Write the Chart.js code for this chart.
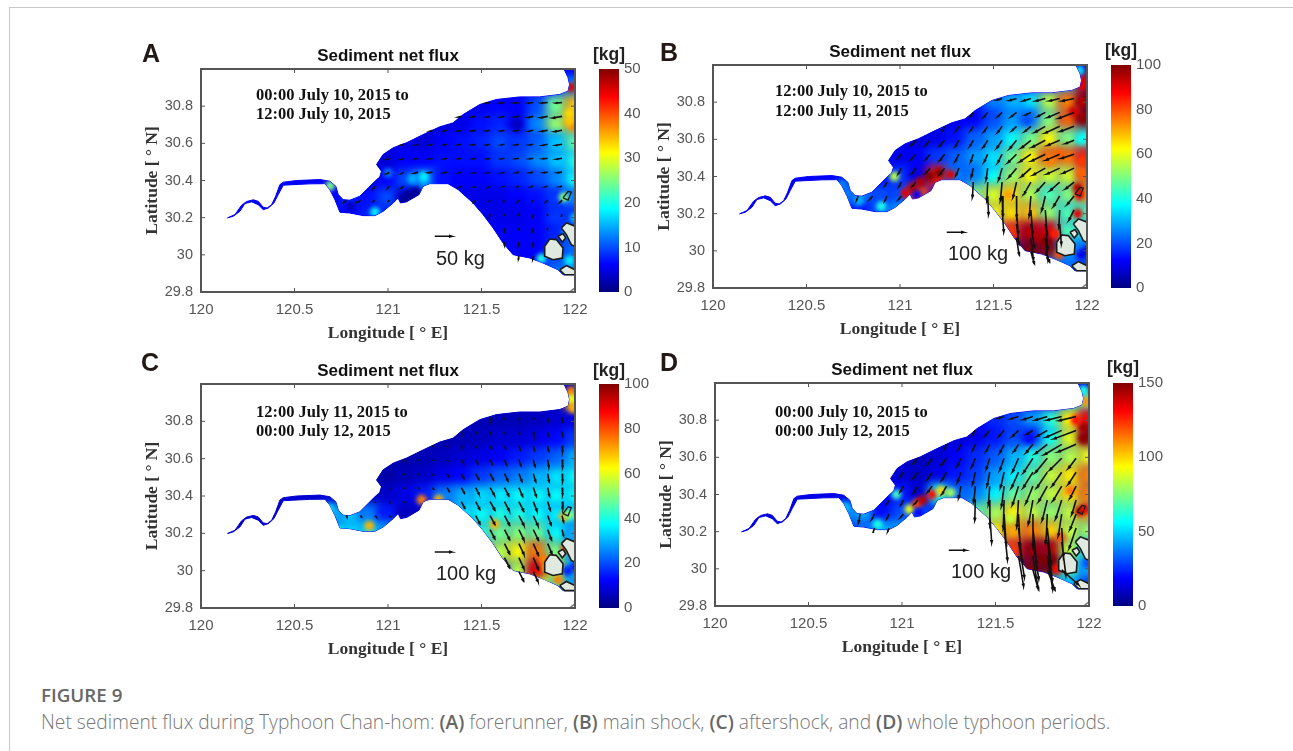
<!DOCTYPE html>
<html>
<head>
<meta charset="utf-8">
<style>
html, body { margin: 0; background: #fff; }
#page { position: relative; width: 1293px; height: 751px; overflow: hidden; }
#frame { position: absolute; left: 9px; top: 7px; width: 1300px; height: 800px; border: 1px solid #c8c8c8; }
canvas { position: absolute; filter: blur(0.45px); }
.t { position: absolute; transform: translateY(-50%); white-space: nowrap; filter: blur(0.3px); }
.letter { font: bold 25px "Liberation Sans"; color: #231815; }
.unit { font: bold 17.5px "Liberation Sans"; color: #222; transform: translate(-50%, -50%); }
.date { font: bold 16.5px "Liberation Serif"; color: #111; }
.key { font: 20px "Liberation Sans"; color: #222; }
.cap { font: 300 19.2px "Open Sans"; color: #777; filter: none; }
.cap b { color: #666; font-weight: 600; }
.cap.head { font-size: 18.8px; }
</style>
</head>
<body>
<div id="page">
  <div id="frame"></div>
  <div class="t letter" style="left:142px;top:53px">A</div>
  <div class="t letter" style="left:660px;top:52px">B</div>
  <div class="t letter" style="left:141px;top:362px">C</div>
  <div class="t letter" style="left:660px;top:362px">D</div>
  <div class="t unit" style="left:609px;top:54px">[kg]</div>
  <div class="t unit" style="left:1121px;top:50px">[kg]</div>
  <div class="t unit" style="left:609px;top:370px">[kg]</div>
  <div class="t unit" style="left:1123px;top:367px">[kg]</div>
  <div class="t date" style="left:256px;top:95px">00:00 July 10, 2015 to</div>
  <div class="t date" style="left:256px;top:114px">12:00 July 10, 2015</div>
  <div class="t date" style="left:775px;top:91px">12:00 July 10, 2015 to</div>
  <div class="t date" style="left:775px;top:111px">12:00 July 11, 2015</div>
  <div class="t date" style="left:256px;top:412px">12:00 July 11, 2015 to</div>
  <div class="t date" style="left:256px;top:431px">00:00 July 12, 2015</div>
  <div class="t date" style="left:775px;top:412px">00:00 July 10, 2015 to</div>
  <div class="t date" style="left:775px;top:431px">00:00 July 12, 2015</div>
  <div class="t key" style="left:436px;top:258px">50 kg</div>
  <div class="t key" style="left:948px;top:253px">100 kg</div>
  <div class="t key" style="left:436px;top:573px">100 kg</div>
  <div class="t key" style="left:951px;top:571px">100 kg</div>
  <div class="t cap head" style="left:41px;top:695px"><b>FIGURE 9</b></div>
  <div class="t cap" style="left:41px;top:721px">Net sediment flux during Typhoon Chan-hom: <b>(A)</b> forerunner, <b>(B)</b> main shock, <b>(C)</b> aftershock, and <b>(D)</b> whole typhoon periods.</div>
</div>
<script src="https://cdn.jsdelivr.net/npm/chart.js@4"></script>
<script>
const ticksX = [120, 120.5, 121, 121.5, 122];
const ticksY = [29.8, 30, 30.2, 30.4, 30.6, 30.8];
const barTicksA = [0, 10, 20, 30, 40, 50];
const barTicksB = [0, 20, 40, 60, 80, 100];
const barTicksC = [0, 20, 40, 60, 80, 100];
const barTicksD = [0, 50, 100, 150];

// estuary outline, lon / lat
const coastLon = [120.142,120.182,120.217,120.244,120.280,120.306,120.333,120.354,120.378,120.399,120.422,120.440,120.511,120.636,120.689,120.721,120.734,120.760,120.796,120.849,120.894,120.930,120.956,120.965,120.939,120.974,121.028,121.099,121.188,121.277,121.348,121.402,121.491,121.580,121.704,121.811,121.918,121.963,121.971,121.963,121.941,122,122,121.936,121.909,121.829,121.758,121.669,121.615,121.562,121.508,121.455,121.375,121.321,121.223,121.188,121.166,121.099,121.067,121.054,121.028,120.974,120.930,120.867,120.796,120.743,120.716,120.689,120.663,120.582,120.440,120.413,120.390,120.360,120.333,120.306,120.271,120.235,120.208,120.173,120.142];
const coastLat = [30.199,30.217,30.267,30.287,30.296,30.288,30.256,30.252,30.270,30.315,30.378,30.391,30.400,30.405,30.396,30.369,30.324,30.297,30.294,30.315,30.360,30.396,30.419,30.450,30.486,30.540,30.576,30.603,30.647,30.689,30.710,30.755,30.809,30.836,30.850,30.850,30.863,30.881,30.917,30.953,31,31,29.893,29.893,29.920,29.956,29.983,30.001,30.064,30.145,30.217,30.279,30.351,30.383,30.383,30.369,30.324,30.285,30.279,30.306,30.279,30.234,30.211,30.211,30.225,30.229,30.297,30.351,30.383,30.382,30.375,30.324,30.279,30.252,30.243,30.270,30.285,30.276,30.234,30.208,30.199];

// islands in the south-east corner
const islandLon = [
  [121.838,121.865,121.900,121.936,121.932,121.882,121.838,121.838],
  [121.927,121.954,122,122,121.980,121.954,121.927],
  [121.909,121.936,121.950,121.932,121.909],
  [121.918,121.954,122,122,121.945,121.918]
];
const islandLat = [
  [30.046,30.085,30.082,30.037,29.983,29.974,29.992,30.046],
  [30.145,30.172,30.154,30.046,30.055,30.109,30.145],
  [30.100,30.114,30.091,30.069,30.100],
  [29.920,29.942,29.920,29.893,29.893,29.920]
];
const ringLon = [121.936,121.963,121.980,121.963,121.936];
const ringLat = [30.306,30.342,30.337,30.294,30.306];
const cornerLon = [121.971,122];
const cornerLat = [29.8,29.822];

// flux field, kg, 0 = land
const heatLon = [120.7,120.8,120.9,121,121.1,121.2,121.3,121.4,121.5,121.6,121.7,121.8,121.9,122];
const heatLat = [30.9,30.8,30.7,30.6,30.5,30.4,30.3,30.2,30.1,30.0,29.9];
const heatA = [
  [0,0,0,0,0,0,0,0,0,0,0,0,8,14],
  [0,0,0,0,0,0,0,5,5,6,6,10,24,34],
  [0,0,0,0,0,4,4,5,7,8,5,13,26,34],
  [0,0,0,5,5,4,6,7,8,10,9,11,16,23],
  [0,0,4,4,6,6,7,7,7,9,10,13,16,20],
  [0,7,5,6,10,14,7,6,6,7,8,10,13,19],
  [6,8,7,10,3,0,0,5,5,5,6,7,9,13],
  [0,6,8,8,0,0,0,0,5,5,5,6,9,9],
  [0,0,0,0,0,0,0,0,0,6,6,6,8,12],
  [0,0,0,0,0,0,0,0,0,0,6,6,10,12],
  [0,0,0,0,0,0,0,0,0,0,0,8,12,14]
];
const heatB = [
  [0,0,0,0,0,0,0,0,0,0,0,0,30,90],
  [0,0,0,0,0,0,0,15,25,30,35,55,75,98],
  [0,0,0,0,0,10,10,12,20,28,24,50,78,98],
  [0,0,0,10,8,10,14,22,28,38,48,62,50,42],
  [0,0,10,10,12,18,22,28,35,48,62,76,76,84],
  [0,25,12,18,10,85,25,25,38,52,62,58,58,78],
  [25,25,20,20,80,0,0,50,58,65,55,45,50,72],
  [0,15,22,30,0,0,0,0,62,65,68,52,45,45],
  [0,0,0,0,0,0,0,0,0,82,94,90,45,40],
  [0,0,0,0,0,0,0,0,0,0,100,98,30,25],
  [0,0,0,0,0,0,0,0,0,0,0,30,25,20]
];
const heatC = [
  [0,0,0,0,0,0,0,0,0,0,0,0,6,70],
  [0,0,0,0,0,0,0,5,5,5,5,6,8,10],
  [0,0,0,0,0,4,4,5,6,8,8,10,13,18],
  [0,0,0,4,4,5,6,8,10,12,15,18,22,30],
  [0,0,4,4,5,7,10,13,18,22,25,30,35,38],
  [0,30,6,7,10,15,25,30,34,36,38,38,38,38],
  [30,32,25,15,6,0,0,36,38,40,40,38,36,35],
  [0,35,35,30,0,0,0,0,42,48,50,48,38,30],
  [0,0,0,0,0,0,0,0,0,55,62,75,50,30],
  [0,0,0,0,0,0,0,0,0,0,55,90,60,30],
  [0,0,0,0,0,0,0,0,0,0,0,60,45,30]
];
const heatD = [
  [0,0,0,0,0,0,0,0,0,0,0,0,50,70],
  [0,0,0,0,0,0,0,18,25,30,42,62,95,130],
  [0,0,0,0,0,12,12,15,22,30,24,58,90,145],
  [0,0,0,10,8,12,18,25,32,45,60,76,82,92],
  [0,0,12,12,10,15,22,28,42,55,70,85,96,112],
  [0,40,18,22,12,60,35,38,55,70,78,85,96,112],
  [40,45,20,30,30,0,0,70,80,95,85,78,85,110],
  [0,35,45,45,0,0,0,0,95,105,112,100,85,80],
  [0,0,0,0,0,0,0,0,0,122,146,142,85,55],
  [0,0,0,0,0,0,0,0,0,0,150,150,70,45],
  [0,0,0,0,0,0,0,0,0,0,0,60,50,30]
];

// small features: lon, lat, kg
const spotsA = [[120.69,30.37,25],[120.8,30.26,3],[120.93,30.23,18],[121.12,30.32,1],[121.15,30.34,1],[121.09,30.3,1],[121.94,30.31,25],[121.19,30.42,18],[121.13,30.41,15],[121.0,30.44,12],[121.98,30.9,45],[122,30.69,38],[121.97,30.76,33],[121.97,30.72,34],[121.69,30.7,3],[121.97,29.97,18],[121.96,30.12,16],[122,30.2,16],[121.82,29.98,20]];
const spotsB = [[121.03,30.31,90],[121.07,30.34,95],[121.11,30.37,95],[121.16,30.4,100],[121.21,30.42,100],[121.27,30.41,90],[120.97,30.4,55],[121.09,30.3,12],[121.58,30.3,72],[121.95,30.34,95],[121.96,30.3,90],[121.95,30.2,90],[121.83,30.09,85],[121.85,29.98,80],[122,30.0,10],[121.97,29.98,10],[120.69,30.36,25],[120.78,30.27,30],[120.9,30.24,40],[121.68,30.7,20],[121.96,30.97,35],[121.98,30.9,90],[122,30.13,20],[121.97,30.8,95],[121.97,30.72,98],[121.93,30.75,92],[121.97,30.6,38],[121.97,30.48,82],[121.97,30.42,78],[121.85,30.52,78],[121.8,30.48,75],[121.75,30.07,95],[121.78,30.05,100]];
const spotsC = [[120.68,30.33,40],[120.74,30.22,35],[120.9,30.24,70],[121.18,30.38,75],[121.27,30.38,70],[121.57,30.25,70],[121.94,30.29,70],[121.97,30.3,50],[121.98,30.96,75],[121.98,30.92,60],[121.99,30.87,70],[121.85,30.02,70],[121.83,30.06,75],[121.83,29.93,60],[122,30.02,15],[121.96,30.0,15],[121.91,29.95,75],[121.95,30.12,80]];
const spotsD = [[121.04,30.32,90],[121.08,30.35,120],[121.11,30.37,140],[121.16,30.4,130],[121.21,30.42,100],[121.26,30.41,80],[120.97,30.4,65],[121.09,30.3,20],[121.58,30.27,85],[121.95,30.31,140],[121.98,30.32,135],[121.85,30.17,120],[121.83,30.0,130],[121.99,30.03,30],[121.97,30.96,60],[121.98,30.9,110],[120.69,30.33,50],[120.87,30.24,60],[121.68,30.7,20],[122,30.12,20],[121.97,30.76,145],[121.93,30.8,130],[121.97,30.7,148],[121.75,30.05,150],[121.8,30.05,150],[121.9,30.42,115]];

// arrow grid and vectors, kg toward east / north, 0,0 = none
const arrowLon = [120.776,120.853,120.93,121.007,121.084,121.161,121.238,121.315,121.392,121.469,121.546,121.623,121.7,121.777,121.854,121.931];
const arrowLat = [30.82,30.745,30.67,30.595,30.52,30.445,30.37,30.295,30.22,30.145,30.07,29.995];
const arrowUA = [
  [0,0,0,0,0,0,0,0,0,0,-11,-11,-13,-14,-18,-18],
  [0,0,0,0,0,0,0,0,-8,-10,-10,-10,-10,-14,-20,-27],
  [0,0,0,0,0,0,-6,-6,-8,-10,-10,-10,-10,-13,-18,-22],
  [0,0,0,0,-6,-6,-7,-8,-9,-10,-10,-9,-10,-11,-14,-18],
  [0,0,0,-6,-7,-8,-8,-8,-8,-8,-9,-9,-10,-11,-14,-16],
  [0,0,0,-5,-6,-10,-11,-8,-6,-6,-6,-6,-7,-9,-11,-13],
  [0,0,-3,-4,-6,0,0,0,-4,-4,-4,-4,-4,-5,-6,-6],
  [-4,-6,-5,-3,0,0,0,0,0,-3,-3,-3,-3,-3,-3,-4],
  [0,0,0,0,0,0,0,0,0,0,-1,-1,-1,-1,-1,-2],
  [0,0,0,0,0,0,0,0,0,0,0,-1,-1,-1,-1,0],
  [0,0,0,0,0,0,0,0,0,0,0,-1,-1,-1,0,0],
  [0,0,0,0,0,0,0,0,0,0,0,0,-1,-1,0,0]
];
const arrowVA = [
  [0,0,0,0,0,0,0,0,0,0,-2,-2,-2,-2,-2,-2],
  [0,0,0,0,0,0,0,0,-2,-2,-2,-2,-2,-3,-4,-5],
  [0,0,0,0,0,0,-2,-2,-2,-2,-2,-2,-2,-3,-3,-4],
  [0,0,0,0,-2,-2,-2,-2,-2,-2,-2,-2,-2,-2,-3,-3],
  [0,0,0,-3,-3,-2,-2,-2,-2,-2,-2,-2,-2,-2,-2,-3],
  [0,0,0,-4,-4,-3,-2,-2,-2,-2,-2,-2,-2,-2,-2,-2],
  [0,0,-6,-6,-5,0,0,0,-3,-3,-3,-2,-2,-2,-2,-2],
  [-5,-5,-4,-4,0,0,0,0,0,-4,-4,-4,-4,-4,-4,-5],
  [0,0,0,0,0,0,0,0,0,0,-6,-6,-6,-6,-6,-6],
  [0,0,0,0,0,0,0,0,0,0,0,-8,-8,-8,-7,0],
  [0,0,0,0,0,0,0,0,0,0,0,-10,-10,-9,0,0],
  [0,0,0,0,0,0,0,0,0,0,0,0,-10,-10,0,0]
];
const arrowUB = [
  [0,0,0,0,0,0,0,0,0,0,-30,-40,-45,-55,-60,-70],
  [0,0,0,0,0,0,0,0,-15,-20,-25,-30,-30,-45,-70,-90],
  [0,0,0,0,0,0,-10,-15,-15,-20,-25,-25,-35,-60,-85,-80],
  [0,0,0,0,-25,-25,-25,-20,-20,-25,-30,-40,-55,-75,-70,-50],
  [0,0,0,-15,-25,-25,-25,-20,-15,-20,-25,-50,-65,-80,-80,-75],
  [0,0,0,-15,-20,-25,-25,-15,-10,-10,-20,-45,-55,-70,-75,-65],
  [0,0,-10,-12,-15,0,0,0,-5,-5,-10,-20,-40,-50,-55,-50],
  [-8,-15,-10,-15,0,0,0,0,0,5,5,1,-10,-20,-35,-40],
  [0,0,0,0,0,0,0,0,0,0,10,10,10,10,-5,-30],
  [0,0,0,0,0,0,0,0,0,0,0,15,20,15,10,0],
  [0,0,0,0,0,0,0,0,0,0,0,15,15,15,0,0],
  [0,0,0,0,0,0,0,0,0,0,0,0,20,25,0,0]
];
const arrowVB = [
  [0,0,0,0,0,0,0,0,0,0,-10,-12,-15,-15,-15,-15],
  [0,0,0,0,0,0,0,0,-25,-25,-25,-25,-15,-25,-30,-35],
  [0,0,0,0,0,0,-25,-25,-25,-30,-35,-25,-30,-35,-40,-30],
  [0,0,0,0,-30,-30,-30,-35,-35,-40,-45,-50,-45,-40,-30,-20],
  [0,0,0,-20,-30,-30,-35,-40,-45,-45,-50,-50,-45,-40,-35,-25],
  [0,0,0,-30,-30,-30,-35,-40,-50,-70,-70,-55,-50,-40,-35,-30],
  [0,0,-20,-25,-20,0,0,0,-90,-110,-110,-90,-70,-55,-50,-40],
  [-25,-20,-25,-20,0,0,0,0,0,-110,-120,-125,-120,-85,-60,-50],
  [0,0,0,0,0,0,0,0,0,0,-130,-140,-140,-140,-100,-60],
  [0,0,0,0,0,0,0,0,0,0,0,-120,-140,-150,-120,0],
  [0,0,0,0,0,0,0,0,0,0,0,-100,-130,-130,0,0],
  [0,0,0,0,0,0,0,0,0,0,0,0,-70,-60,0,0]
];
const arrowUC = [
  [0,0,0,0,0,0,0,0,0,0,2,3,3,3,2,1],
  [0,0,0,0,0,0,0,0,2,3,4,5,5,4,3,2],
  [0,0,0,0,0,0,2,3,4,6,8,8,8,6,5,3],
  [0,0,0,0,2,3,4,6,10,12,13,13,12,10,7,3],
  [0,0,0,2,3,4,7,12,15,18,20,20,18,14,8,3],
  [0,0,0,3,4,5,7,14,18,20,25,25,22,18,10,3],
  [0,0,2,4,5,0,0,0,20,24,28,28,28,22,15,5],
  [5,6,7,5,0,0,0,0,0,25,28,30,30,28,20,8],
  [0,0,0,0,0,0,0,0,0,0,28,30,30,30,22,8],
  [0,0,0,0,0,0,0,0,0,0,0,30,30,30,25,0],
  [0,0,0,0,0,0,0,0,0,0,0,30,30,30,0,0],
  [0,0,0,0,0,0,0,0,0,0,0,0,28,28,0,0]
];
const arrowVC = [
  [0,0,0,0,0,0,0,0,0,0,-8,-10,-12,-14,-18,-20],
  [0,0,0,0,0,0,0,0,-6,-8,-10,-12,-15,-18,-22,-28],
  [0,0,0,0,0,0,-3,-5,-8,-12,-16,-20,-24,-28,-32,-36],
  [0,0,0,0,-2,-3,-4,-8,-16,-24,-28,-32,-36,-40,-44,-44],
  [0,0,0,-2,-3,-5,-10,-18,-28,-34,-38,-42,-46,-48,-48,-46],
  [0,0,0,-3,-4,-5,-10,-22,-32,-40,-44,-48,-52,-52,-50,-42],
  [0,0,-3,-4,-5,0,0,0,-38,-46,-50,-54,-56,-56,-50,-40],
  [-8,-8,-7,-5,0,0,0,0,0,-48,-52,-56,-58,-60,-55,-38],
  [0,0,0,0,0,0,0,0,0,0,-54,-58,-62,-62,-60,-36],
  [0,0,0,0,0,0,0,0,0,0,0,-60,-64,-68,-60,0],
  [0,0,0,0,0,0,0,0,0,0,0,-60,-66,-70,0,0],
  [0,0,0,0,0,0,0,0,0,0,0,0,-55,-60,0,0]
];
const arrowUD = [
  [0,0,0,0,0,0,0,0,0,0,-35,-45,-55,-70,-85,-100],
  [0,0,0,0,0,0,0,0,-15,-25,-30,-35,-35,-60,-90,-130],
  [0,0,0,0,0,0,-10,-15,-15,-20,-25,-25,-40,-70,-100,-105],
  [0,0,0,0,-25,-25,-25,-20,-20,-20,-25,-35,-55,-70,-70,-45],
  [0,0,0,-15,-25,-25,-25,-20,-15,-15,-20,-40,-55,-60,-55,-45],
  [0,0,0,-15,-20,-25,-25,-12,-8,-8,-15,-35,-40,-50,-50,-35],
  [0,0,-10,-12,-15,0,0,0,-3,1,-5,-10,-25,-30,-35,-25],
  [-8,-15,-10,-15,0,0,0,0,0,12,12,10,1,-8,-20,-35],
  [0,-8,-6,0,0,0,0,0,0,0,20,22,22,22,10,-40],
  [0,0,0,0,0,0,0,0,0,0,0,35,35,30,25,0],
  [0,0,0,0,0,0,0,0,0,0,0,30,32,32,0,0],
  [0,0,0,0,0,0,0,0,0,0,0,0,30,45,100,0]
];
const arrowVD = [
  [0,0,0,0,0,0,0,0,0,0,-12,-15,-18,-22,-22,-25],
  [0,0,0,0,0,0,0,0,-25,-30,-35,-35,-22,-35,-40,-50],
  [0,0,0,0,0,0,-25,-30,-35,-40,-50,-40,-50,-55,-60,-45],
  [0,0,0,0,-30,-35,-35,-45,-50,-65,-70,-80,-85,-85,-70,-60],
  [0,0,0,-25,-35,-40,-45,-60,-70,-80,-90,-90,-90,-90,-80,-70],
  [0,0,0,-30,-35,-35,-45,-70,-90,-110,-120,-110,-100,-90,-85,-70],
  [0,0,-20,-25,-20,0,0,0,-120,-150,-165,-160,-140,-120,-110,-85],
  [-50,-30,-25,-20,0,0,0,0,0,-170,-180,-190,-190,-170,-130,-90],
  [0,-25,-20,0,0,0,0,0,0,0,-190,-200,-210,-210,-170,-120],
  [0,0,0,0,0,0,0,0,0,0,0,-210,-220,-230,-200,0],
  [0,0,0,0,0,0,0,0,0,0,0,-180,-200,-200,0,0],
  [0,0,0,0,0,0,0,0,0,0,0,0,-110,-120,-90,0]
];

function jet(t) {
  const c = v => Math.round(255 * Math.max(0, Math.min(1, v)));
  return `rgb(${c(1.5 - Math.abs(4 * t - 3))},${c(1.5 - Math.abs(4 * t - 2))},${c(1.5 - Math.abs(4 * t - 1))})`;
}

function zip(xs, ys) {
  return xs.map((x, i) => ({ x: x, y: ys[i] }));
}

// a key arrow length on the map: 17 px, which is 0.091 deg
function arrowPoints(us, vs, ref) {
  const pts = [];
  const gap = { x: null, y: null };
  const add = (lon, lat, u, v) => {
    const dx = u / ref * 0.091, dy = v / ref * 0.091;
    const tip = { x: lon + dx, y: lat + dy };
    const len = Math.hypot(dx, dy);
    const h = Math.min(0.016, len * 0.3), a = Math.atan2(dy, dx);
    pts.push({ x: lon, y: lat }, tip,
      { x: tip.x - h * Math.cos(a - 0.35), y: tip.y - h * Math.sin(a - 0.35) }, tip,
      { x: tip.x - h * Math.cos(a + 0.35), y: tip.y - h * Math.sin(a + 0.35) }, gap);
  };
  arrowLat.forEach((lat, r) => arrowLon.forEach((lon, c) => {
    if (us[r][c] || vs[r][c]) add(lon, lat, us[r][c], vs[r][c]);
  }));
  add(121.25, 30.1, ref, 0);
  return pts;
}

const clipBlur = {
  id: 'clipBlur',
  beforeDatasetDraw(chart, args) {
    const ds = chart.data.datasets[args.index];
    if (!ds.blur) return;
    const ctx = chart.ctx, sx = chart.scales.x, sy = chart.scales.y;
    ctx.save();
    ctx.beginPath();
    coastLon.forEach((lon, i) => ctx.lineTo(sx.getPixelForValue(lon), sy.getPixelForValue(coastLat[i])));
    ctx.closePath();
    ctx.clip();
    ctx.filter = `blur(${ds.blur}px)`;
  },
  afterDatasetDraw(chart, args) {
    if (chart.data.datasets[args.index].blur) chart.ctx.restore();
  }
};

// box and inward ticks, matlab style
const boxFrame = {
  id: 'boxFrame',
  afterDraw(chart) {
    const { ctx, chartArea: a, scales } = chart;
    ctx.save();
    ctx.strokeStyle = '#555';
    ctx.lineWidth = 1;
    ctx.beginPath();
    ticksX.forEach(v => {
      const p = scales.x.getPixelForValue(v);
      ctx.moveTo(p, a.bottom); ctx.lineTo(p, a.bottom - 4);
      ctx.moveTo(p, a.top); ctx.lineTo(p, a.top + 4);
    });
    ticksY.forEach(v => {
      const p = scales.y.getPixelForValue(v);
      ctx.moveTo(a.left, p); ctx.lineTo(a.left + 4, p);
      ctx.moveTo(a.right, p); ctx.lineTo(a.right - 4, p);
    });
    ctx.stroke();
    ctx.lineWidth = 2;
    ctx.strokeRect(a.left, a.top, a.right - a.left, a.bottom - a.top);
    ctx.restore();
  }
};

function addCanvas(left, top, w, h) {
  const c = document.createElement('canvas');
  c.width = w; c.height = h;
  c.style.left = left + 'px'; c.style.top = top + 'px';
  c.style.width = w + 'px'; c.style.height = h + 'px';
  document.getElementById('page').appendChild(c);
  return c;
}

const tickFont = { family: 'Liberation Sans', size: 15 };
const axisFont = { family: 'Liberation Serif', size: 17.5, weight: 'bold' };

function drawMap(plotLeft, plotTop, plotH, heat, spots, us, vs, ref, vmax, baseVal) {
  const cells = [], cellColors = [];
  heatLat.forEach((lat, r) => heatLon.forEach((lon, c) => {
    if (heat[r][c]) { cells.push({ x: lon, y: lat }); cellColors.push(jet(heat[r][c] / vmax)); }
  }));
  const datasets = [{
    data: arrowPoints(us, vs, ref), showLine: true, borderColor: '#111', borderWidth: 1.6,
    pointRadius: 0, spanGaps: false
  }];
  islandLon.forEach((lon, i) => datasets.push({
    data: zip(lon, islandLat[i]), showLine: true, fill: 'shape', backgroundColor: '#dfe9df',
    borderColor: '#1a1a1a', borderWidth: 1.6, pointRadius: 0
  }));
  datasets.push({
    data: zip(ringLon, ringLat), showLine: true, borderColor: '#1a1a1a', borderWidth: 1.3, pointRadius: 0
  });
  datasets.push({
    data: zip(cornerLon, cornerLat), showLine: true, borderColor: '#777', borderWidth: 1.5, pointRadius: 0
  });
  datasets.push({
    data: spots.map(s => ({ x: s[0], y: s[1] })), blur: 2, pointStyle: 'circle', pointRadius: 5,
    pointBorderWidth: 0, pointBackgroundColor: spots.map(s => jet(s[2] / vmax))
  });
  datasets.push({
    data: cells, blur: 5, pointStyle: 'rect', pointRadius: 15, pointBorderWidth: 0,
    pointBackgroundColor: cellColors
  });
  datasets.push({
    data: zip(coastLon, coastLat), showLine: true, fill: 'shape', backgroundColor: jet(baseVal / vmax),
    borderColor: jet(baseVal / vmax), borderWidth: 1, pointRadius: 0
  });

  const canvas = addCanvas(plotLeft - 59, plotTop - 23, 59 + 374 + 25, 23 + plotH + 52);
  new Chart(canvas, {
    type: 'scatter',
    data: { datasets: datasets },
    plugins: [clipBlur, boxFrame],
    options: {
      responsive: false,
      animation: false,
      layout: { padding: { right: 25 } },
      scales: {
        x: {
          type: 'linear', min: 120, max: 122,
          grid: { display: false, drawTicks: false }, border: { display: false },
          afterBuildTicks: s => { s.ticks = ticksX.map(v => ({ value: v })); },
          afterFit: s => { s.height = 52; s.paddingLeft = 0; s.paddingRight = 0; },
          ticks: { autoSkip: false, maxRotation: 0, padding: 9, font: tickFont, color: '#555', callback: v => String(v) },
          title: { display: true, text: 'Longitude [ ° E]', font: axisFont, color: '#333', padding: 0 }
        },
        y: {
          type: 'linear', min: 29.8, max: 31,
          grid: { display: false, drawTicks: false }, border: { display: false },
          afterBuildTicks: s => { s.ticks = ticksY.map(v => ({ value: v })); },
          afterFit: s => { s.width = 59; s.paddingTop = 0; s.paddingBottom = 0; },
          ticks: { autoSkip: false, padding: 8, font: { family: 'Liberation Sans', size: 14.5 }, color: '#555', callback: v => String(v) },
          title: { display: true, text: 'Latitude [ ° N]', font: axisFont, color: '#333', padding: 0 }
        }
      },
      plugins: {
        legend: { display: false },
        tooltip: { enabled: false },
        title: {
          display: true, text: 'Sediment net flux', fullSize: false, color: '#111',
          font: { family: 'Liberation Sans', size: 17, weight: 'bold', lineHeight: 1.25 },
          padding: { top: 0, bottom: 1.75 }
        }
      }
    }
  });
}

function drawBar(left, top, h, vmax, barTicks) {
  const canvas = addCanvas(left, top - 10, 20 + 45, h + 20);
  new Chart(canvas, {
    type: 'bar',
    data: {
      labels: ['kg'],
      datasets: [{
        data: [vmax], barPercentage: 1, categoryPercentage: 1,
        backgroundColor: c => {
          const a = c.chart.chartArea;
          if (!a) return '#00f';
          const g = c.chart.ctx.createLinearGradient(0, a.bottom, 0, a.top);
          g.addColorStop(0, '#000080'); g.addColorStop(0.125, '#0000ff'); g.addColorStop(0.375, '#00ffff');
          g.addColorStop(0.625, '#ffff00'); g.addColorStop(0.875, '#ff0000'); g.addColorStop(1, '#800000');
          return g;
        }
      }]
    },
    options: {
      responsive: false,
      animation: false,
      layout: { padding: { top: 10, bottom: 10 } },
      scales: {
        x: { display: false },
        y: {
          position: 'right', min: 0, max: vmax,
          grid: { display: false, drawTicks: false }, border: { display: false },
          afterBuildTicks: s => { s.ticks = barTicks.map(v => ({ value: v })); },
          afterFit: s => { s.width = 45; s.paddingTop = 0; s.paddingBottom = 0; },
          ticks: { padding: 5, font: tickFont, color: '#555' }
        }
      },
      plugins: { legend: { display: false }, tooltip: { enabled: false } }
    }
  });
}

drawMap(201, 69, 223, heatA, spotsA, arrowUA, arrowVA, 50, 50, 6);
drawMap(713, 65, 223, heatB, spotsB, arrowUB, arrowVB, 100, 100, 12);
drawMap(201, 384, 224, heatC, spotsC, arrowUC, arrowVC, 100, 100, 8);
drawMap(715, 383, 223, heatD, spotsD, arrowUD, arrowVD, 100, 150, 15);
drawBar(599, 69, 223, 50, barTicksA);
drawBar(1111, 65, 223, 100, barTicksB);
drawBar(599, 384, 224, 100, barTicksC);
drawBar(1113, 383, 223, 150, barTicksD);
</script>
</body>
</html>
